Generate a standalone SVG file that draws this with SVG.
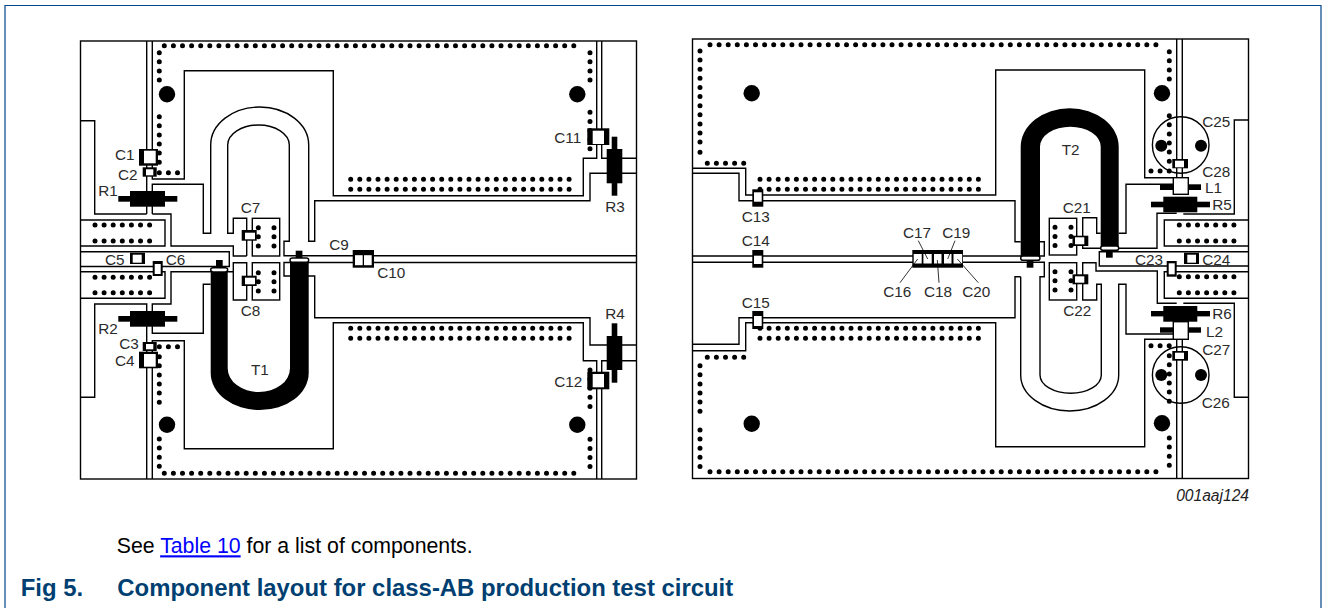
<svg xmlns="http://www.w3.org/2000/svg" width="1326" height="608" viewBox="0 0 1326 608">
<style>
text{font-family:"Liberation Sans",Arial,sans-serif}
.l{font-size:15.300px;fill:#2b2b2b}
.t{fill:none;stroke:#000;stroke-width:1.400}
.d{fill:none;stroke:#000;stroke-width:5;stroke-linecap:round;stroke-dasharray:0 9.1}
.k{fill:#000}
.w{fill:#fff}
.c{fill:#fff;stroke:#000;stroke-width:1.400}
.b{fill:#000}
</style>
<rect width="1326" height="608" fill="#fff"/>
<path d="M5,608V5.500H1321V608" fill="none" stroke="#00468b" stroke-width="1.200"/>
<g id="board-left">
<g id="left-traces">
<rect class="t" x="80.500" y="41" width="556" height="438"/>
<path class="t" d="M146.700,41V214M80.500,120.700H94.700V214H146.700"/>
<path class="t" d="M152.300,41V179H184.300V70.700H333.300V195.700H583.300V158.300H596.700V41"/>
<path class="t" d="M601.700,41V158.300H636"/>
<path class="t" d="M152.300,214V184.300H203.300V233.300H210.700V145A49,38 0 0 1 308.700,145V241.300H314.700V200.700H590V173.300H636"/>
<path class="t" d="M246.700,256V218.300H233.300V233.300H227.700V145A30.800,20 0 0 1 289.300,145V241.300H284V255.700H636"/>
<path class="t" d="M80.500,246H165V220H80.500"/>
<path class="t" d="M152.300,214H171V246H233.300V256H246.700"/>
<path class="t" d="M80.500,251.700H229.300V266.500H80.500"/>
<path class="t" d="M636,262.500H284V276H314.700V317.700H590V345H636"/>
<path class="t" d="M246.700,262.700H233.300V300H246.700Z"/>
<path class="t" d="M80.500,271.700H165V298.300H80.500"/>
<path class="t" d="M233.300,271.700H171V304H152.300V333.300H203.300V284.300H210.700"/>
<path class="t" d="M152.300,479V340.700H184.300V448.700H333.300V322.700H583.300V360.700H596.700V479"/>
<path class="t" d="M601.700,479V360.700H636"/>
<path class="t" d="M80.500,397.300H94.700V304H146.700V479"/>
<rect class="t" x="252.300" y="218.300" width="27.400" height="37.700"/>
<rect class="t" x="252.300" y="262.700" width="27.400" height="37.300"/>
</g>
<g id="left-vias">
<path class="d" d="M164.300,45.700H582M164.300,473.300H582"/>
<path class="d" d="M159.300,52.700V80.100M159.300,116.700V162.300M159.300,172.700H177.700"/>
<path class="d" d="M590,52.700V80.100M590,112.300V148.800M590,370V406.600M590,439.300V466.800"/>
<path class="d" d="M159.300,346.700H177.700M159.300,356.700V402.300M159.300,439V466.400"/>
<path class="d" d="M350.700,179.300H569.200M350.700,189.300H569.200M350.700,328.300H569.200M350.700,338.300H569.200"/>
<path class="d" d="M95,225H150M95,241H150M95,277.300H150M95,292.700H150"/>
<path class="d" d="M258.300,227.700V246M274,227.700V246M258.300,272.700V291M274,272.700V291"/>
<circle class="k" cx="167" cy="94.300" r="8.200"/>
<circle class="k" cx="577.300" cy="94.300" r="8.200"/>
<circle class="k" cx="167" cy="424.700" r="8.200"/>
<circle class="k" cx="577.300" cy="424.700" r="8.200"/>
</g>
</g>
<g id="T1">
<path class="k" d="M210.700,270V373A49,37 0 0 0 308.700,373V260H290V368.300A30.650,23.400 0 0 1 227.700,368.300V270Z"/>
<rect class="k" x="216" y="260" width="6.700" height="8"/>
<rect class="k" x="295.700" y="250.700" width="6.700" height="8"/>
<rect class="c" x="210.700" y="267.700" width="17" height="4.300" rx="2.500"/>
<rect class="c" x="290" y="258" width="18.700" height="4.300" rx="2.500"/>
</g>
<g id="C1"><rect class="b" x="139" y="149" width="19" height="16.700"/><rect class="w" x="144" y="150.700" width="11.700" height="12.600"/></g>
<g id="C2"><rect class="b" x="142.700" y="167.300" width="14" height="9.400"/><rect class="w" x="146" y="169.300" width="7.300" height="6"/></g>
<g id="C3"><rect class="b" x="142.700" y="342" width="14" height="9"/><rect class="w" x="146" y="344" width="7.300" height="5.300"/></g>
<g id="C4"><rect class="b" x="139" y="351.700" width="19" height="16.600"/><rect class="w" x="144" y="354" width="11.700" height="12.700"/></g>
<g id="C5"><rect class="b" x="130" y="252.700" width="15" height="11.300"/><rect class="w" x="132.700" y="254.700" width="9" height="8"/></g>
<g id="C6"><rect class="b" x="152.700" y="261" width="10" height="15"/><rect class="w" x="154.700" y="264" width="6" height="10"/></g>
<g id="C7"><rect class="b" x="241.700" y="230" width="15" height="10.700"/><rect class="w" x="245" y="232.700" width="10" height="6.600"/></g>
<g id="C8"><rect class="b" x="241.700" y="275.700" width="15" height="10.300"/><rect class="w" x="245" y="277.700" width="10" height="6.600"/></g>
<g id="C9-C10"><rect class="b" x="352.700" y="250" width="21.300" height="17.700"/><rect class="w" x="355" y="255.200" width="7.700" height="10"/><rect class="w" x="364" y="255.200" width="7.700" height="10"/></g>
<g id="C11"><rect class="b" x="587.300" y="128.300" width="22" height="16.700"/><rect class="w" x="592.700" y="130.700" width="11.300" height="13.300"/></g>
<g id="C12"><rect class="b" x="587.300" y="371.700" width="22" height="17.600"/><rect class="w" x="592.700" y="374" width="11.300" height="13.300"/></g>
<g id="R1"><rect class="k" x="130" y="191" width="35" height="15.700"/><rect class="k" x="118.300" y="196" width="59" height="5.700"/></g>
<g id="R2"><rect class="k" x="130" y="311" width="35" height="15.700"/><rect class="k" x="118.300" y="316" width="59" height="5.700"/></g>
<g id="R3"><rect class="k" x="606.700" y="149" width="15.600" height="34.300"/><rect class="k" x="611.700" y="136.700" width="5.600" height="59"/></g>
<g id="R4"><rect class="k" x="606.700" y="336" width="15.600" height="34"/><rect class="k" x="611.700" y="323.300" width="5.600" height="59.400"/></g>
<g id="board-right">
<g id="right-traces">
<rect class="t" x="692.500" y="39" width="556" height="439.500"/>
<path class="t" d="M692.500,168.300H745.700V195H995.700V70H1144.700V177.700H1176.700V39"/>
<path class="t" d="M692.500,173.300H739V200.700H1015V241.700H1020.700M1040,241.700H1044.300V256H692.500"/>
<path class="t" d="M692.500,262.300H1044.300V276.700H1040V375A30.650,18.300 0 0 0 1101.300,375V284.300H1096.700V300H1082.700V262.700H1096V271H1157.300V303.300H1176.700"/>
<path class="t" d="M1020.700,276.700H1015V317.700H739V344.300H692.500"/>
<path class="t" d="M1020.700,276.700V375A49,36 0 0 0 1118.700,375V284.300H1126V334H1173"/>
<path class="t" d="M692.500,350.700H745.700V322.700H995.700V446.700H1144.700V339.300H1176.700V478.500"/>
<path class="t" d="M1182.300,339.300V478.500M1182.300,39V177.700"/>
<path class="t" d="M1248.500,120H1234.300V214H1183.300M1183.300,303.300H1234.300V397.300H1248.500"/>
<path class="t" d="M1176.700,213.300H1157V248.300H1082.700V217.700H1096.700V233.300H1100.700"/>
<path class="t" d="M1173,184.300H1126V233.300H1118.700"/>
<path class="t" d="M1248.500,251.700H1099.300V266H1248.500"/>
<path class="t" d="M1248.500,220H1164.300V246H1248.500M1248.500,271.700H1164.300V298.300H1248.500"/>
<rect class="t" x="1049.300" y="218.300" width="27.400" height="36.700"/>
<rect class="t" x="1049.300" y="262.700" width="27.400" height="37.300"/>
</g>
<g id="right-vias">
<path class="d" d="M710,44.700H1165M710,471.700H1165"/>
<path class="d" d="M700,51V96.600M700,105.700V143.300M700,152.300V152.400M700,365.700V420M700,430V467.100"/>
<path class="d" d="M707.300,163.300H743.800M707.300,357.300H743.800"/>
<path class="d" d="M760,179.300H978.500M760,189.300H978.500M760,328.300H978.500M760,338.300H978.500"/>
<path class="d" d="M1169.300,51.700V79.100M1169.300,115.700V161.300M1151,171H1169.300M1151,345.700H1169.300M1169.300,355.700V401.300M1169.300,438V465.400"/>
<path class="d" d="M1179.300,225H1234.400M1179.300,241H1234.400M1179.300,276.700H1234.400M1179.300,292.700H1234.400"/>
<path class="d" d="M1055,227.300V245.600M1071,227.300V245.600M1055,271.700V290M1071,271.700V290"/>
<circle class="k" cx="751.700" cy="93.300" r="8.200"/>
<circle class="k" cx="751.700" cy="423.700" r="8.200"/>
<circle class="k" cx="1162" cy="93.300" r="8.200"/>
<circle class="k" cx="1162" cy="423.300" r="8.200"/>
</g>
</g>
<g id="C25"><circle class="t" cx="1180.700" cy="145" r="28.300"/><circle class="k" cx="1161.300" cy="145.700" r="6"/><circle class="k" cx="1201" cy="145.700" r="6"/></g>
<g id="C26"><circle class="t" cx="1180.700" cy="375" r="28.300"/><circle class="k" cx="1161.300" cy="375" r="6"/><circle class="k" cx="1201" cy="375" r="6"/></g>
<g id="T2">
<path class="k" d="M1020.700,258V146.700A49,38.400 0 0 1 1118.700,146.700V248H1100.700V146.700A30.350,20 0 0 0 1040,146.700V258Z"/>
<rect class="k" x="1026.700" y="260" width="6.700" height="7.700"/>
<rect class="k" x="1106" y="250" width="6.700" height="7.700"/>
<rect class="c" x="1020.700" y="256" width="19.300" height="4.300" rx="2.500"/>
<rect class="c" x="1100.700" y="246" width="18" height="4.300" rx="2.500"/>
</g>
<g id="C13"><rect class="b" x="752.300" y="189.300" width="11" height="17.400"/><rect class="w" x="754" y="192.300" width="7.700" height="9.400"/></g>
<g id="C14"><rect class="b" x="752.300" y="250" width="11" height="17.700"/><rect class="w" x="754" y="255.700" width="7.700" height="8.300"/></g>
<g id="C15"><rect class="b" x="752.300" y="311" width="11" height="18"/><rect class="w" x="754" y="316" width="7.700" height="10"/></g>
<g id="C16-C20"><rect class="b" x="912.300" y="250" width="50.700" height="17.700"/>
<rect class="w" x="913.700" y="254" width="8" height="9.500"/><rect class="w" x="923.400" y="254" width="8.300" height="9.500"/><rect class="w" x="934" y="254" width="7.500" height="9.500"/><rect class="w" x="944" y="254" width="7.500" height="9.500"/><rect class="w" x="953.500" y="254" width="8.700" height="9.500"/></g>
<g id="leaders" stroke="#000" stroke-width="0.800" fill="none"><path d="M918.300,240.700L927.700,259M955,240.700L947.700,259M900,282.700L917.700,259M939,282.700L937.300,260M978.300,282.700L957.300,259"/></g>
<g id="C21"><rect class="b" x="1072.500" y="235.700" width="15.800" height="10.300"/><rect class="w" x="1075" y="237.300" width="9.300" height="7"/></g>
<g id="C22"><rect class="b" x="1072.500" y="274.300" width="15.800" height="10"/><rect class="w" x="1075" y="276.300" width="9.300" height="6.400"/></g>
<g id="C23"><rect class="b" x="1166.700" y="261" width="10" height="15.700"/><rect class="w" x="1168.700" y="263.300" width="6" height="11"/></g>
<g id="C24"><rect class="b" x="1184" y="252.700" width="15" height="11.300"/><rect class="w" x="1187.300" y="254.700" width="8.700" height="8"/></g>
<g id="C28"><rect class="b" x="1172.300" y="159" width="15.700" height="9.300"/><rect class="w" x="1175" y="160.700" width="9" height="6.600"/></g>
<g id="C27"><rect class="b" x="1172.300" y="351" width="15.700" height="9.700"/><rect class="w" x="1175" y="352.700" width="9" height="6.300"/></g>
<g id="L1"><rect class="k" x="1160" y="184.300" width="41" height="5.700"/><rect class="c" x="1173.300" y="177.700" width="15" height="16.600"/></g>
<g id="L2"><rect class="k" x="1160" y="327.300" width="41" height="5.400"/><rect class="c" x="1173.300" y="321.700" width="15" height="17.600"/></g>
<g id="R5"><rect class="k" x="1163.300" y="196.700" width="34" height="15.600"/><rect class="k" x="1151" y="201.700" width="59" height="5.600"/></g>
<g id="R6"><rect class="k" x="1163.300" y="306" width="34" height="15.700"/><rect class="k" x="1151" y="311" width="59" height="5.400"/></g>
<g id="labels">
<text class="l" x="115" y="160">C1</text>
<text class="l" x="118" y="180">C2</text>
<text class="l" x="98.300" y="195.700">R1</text>
<text class="l" x="240.700" y="213.300">C7</text>
<text class="l" x="105" y="264.700">C5</text>
<text class="l" x="165.700" y="264.700">C6</text>
<text class="l" x="329.300" y="250">C9</text>
<text class="l" x="240.700" y="315.700">C8</text>
<text class="l" x="98.300" y="334.300">R2</text>
<text class="l" x="119.300" y="349">C3</text>
<text class="l" x="115" y="365.700">C4</text>
<text class="l" x="251" y="375.300">T1</text>
<text class="l" x="377.300" y="278.300">C10</text>
<text class="l" x="554.300" y="143.300">C11</text>
<text class="l" x="605.300" y="211.700">R3</text>
<text class="l" x="605.300" y="318.700">R4</text>
<text class="l" x="554.300" y="387">C12</text>
<text class="l" x="741.700" y="221.700">C13</text>
<text class="l" x="741.700" y="246">C14</text>
<text class="l" x="903" y="238.300">C17</text>
<text class="l" x="942.300" y="238.300">C19</text>
<text class="l" x="883.300" y="296.700">C16</text>
<text class="l" x="924" y="296.700">C18</text>
<text class="l" x="962.300" y="296.700">C20</text>
<text class="l" x="741.700" y="308.300">C15</text>
<text class="l" x="1061.700" y="154.700">T2</text>
<text class="l" x="1202.300" y="126.700">C25</text>
<text class="l" x="1202.300" y="176.700">C28</text>
<text class="l" x="1205" y="192.700">L1</text>
<text class="l" x="1212.300" y="210">R5</text>
<text class="l" x="1062.700" y="212.700">C21</text>
<text class="l" x="1135" y="265">C23</text>
<text class="l" x="1202.300" y="265">C24</text>
<text class="l" x="1063.300" y="315.700">C22</text>
<text class="l" x="1212.300" y="319.300">R6</text>
<text class="l" x="1206" y="336.700">L2</text>
<text class="l" x="1202.300" y="355">C27</text>
<text class="l" x="1201.700" y="407.700">C26</text>
<text x="1249" y="501" text-anchor="end" font-size="15.600" font-style="italic" fill="#222">001aaj124</text>
</g>
<g id="caption">
<text x="116.700" y="553.300" font-size="21.300" fill="#000">See <tspan fill="#0000ff" text-decoration="underline">Table 10</tspan> for a list of components.</text>
<text x="20.700" y="595.700" font-size="23.900" font-weight="bold" fill="#003f72">Fig 5.</text>
<text x="117.300" y="595.700" font-size="23.900" font-weight="bold" fill="#003f72">Component layout for class-AB production test circuit</text>
</g>
</svg>
